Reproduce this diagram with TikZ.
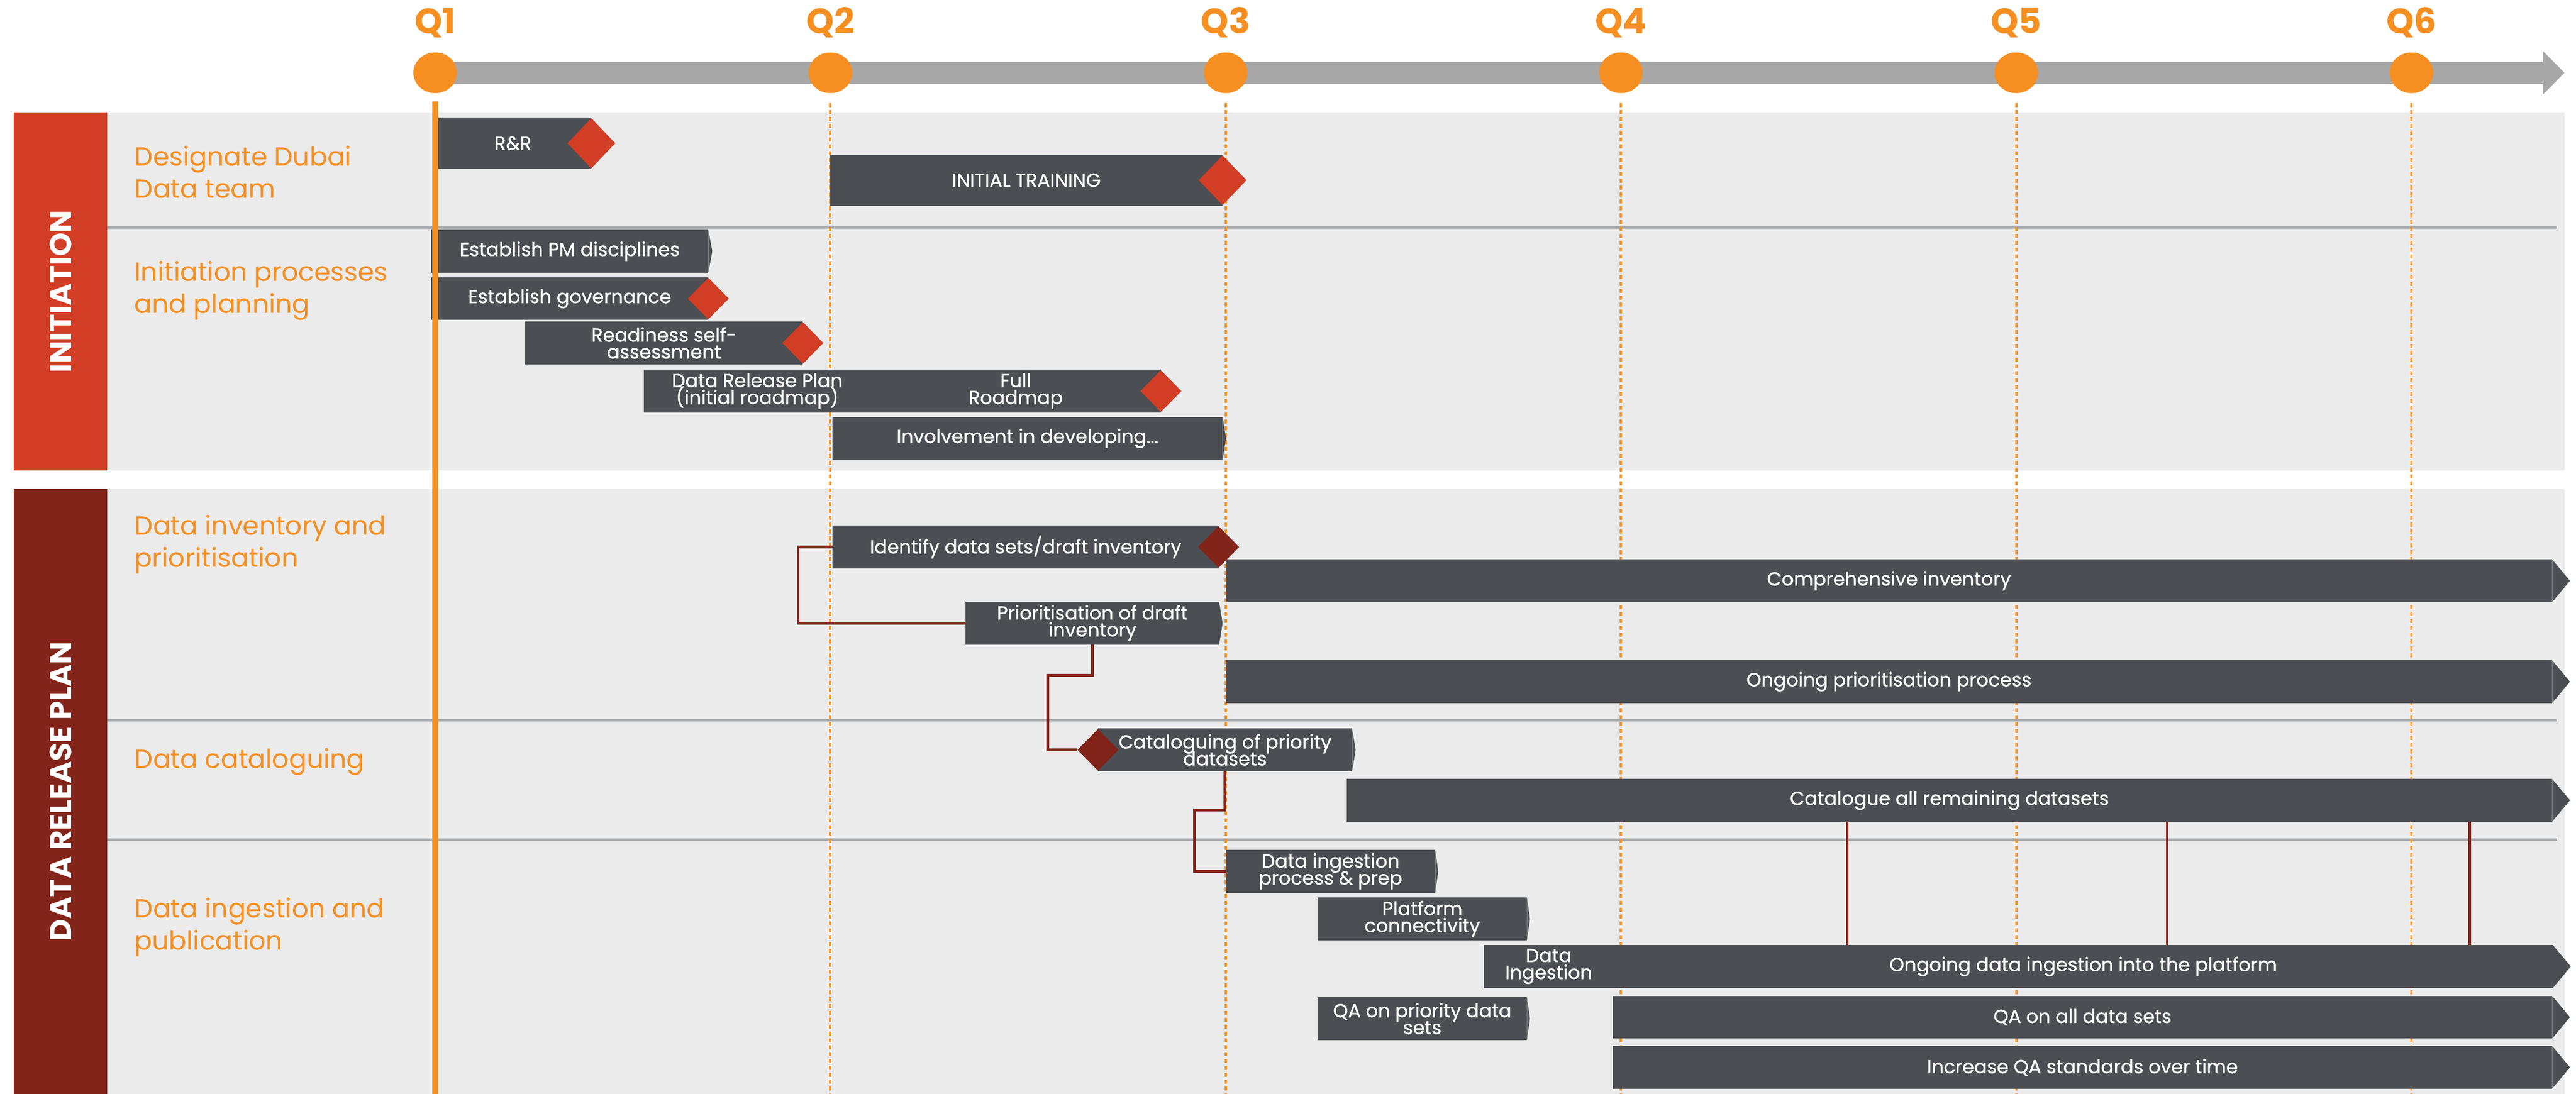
\documentclass[tikz,border=0pt]{standalone}
\usepackage{fontspec}
\setmainfont{Poppins}
\newfontfamily\barfont[FakeBold=0.6]{Poppins}
\usepackage{tikz}
\usetikzlibrary{positioning,shapes.geometric,arrows.meta}
\AtBeginDocument{\lineskiplimit=-10pt}
\definecolor{qorange}{HTML}{F58F22}
\definecolor{initred}{HTML}{D13D25}
\definecolor{planred}{HTML}{82241A}
\definecolor{bargray}{HTML}{4B4E53}
\definecolor{bandgray}{HTML}{EBEBEB}
\definecolor{sepgray}{HTML}{A4A8AB}
\definecolor{tlgray}{HTML}{A7A7A7}
\tikzstyle{qdot} = [ellipse, fill=qorange, minimum width=7.6mm, minimum height=7.1mm, inner sep=0pt]
\tikzstyle{qlabel} = [text=qorange, font=\fontsize{17.5}{20}\selectfont\bfseries, inner sep=0pt]
\tikzstyle{phase} = [rotate=90, text=white, inner sep=0pt, font=\fontsize{15}{18}\selectfont\bfseries]
\tikzstyle{stream} = [anchor=west, align=left, text=qorange, inner sep=0pt, font=\fontsize{13}{16}\selectfont]
\tikzstyle{bar} = [anchor=west, fill=bargray, draw=bargray, line width=0.4pt, text=white, align=center, inner sep=0pt, minimum height=7.3mm, font=\barfont\fontsize{9.4}{8.4}\selectfont]
\tikzstyle{mile} = [diamond, fill=initred, inner sep=0pt, minimum width=7.2mm, minimum height=7.3mm]
\tikzstyle{link} = [draw=planred, line width=1.4pt]
\tikzstyle{sep} = [draw=sepgray, line width=1.1pt]

\begin{document}
\begin{tikzpicture}[x=1cm, y=-1cm]
    \useasboundingbox (0,0) rectangle (44.93,19.09);
    \coordinate (bottom) at (0,19.09);
    \fill[bandgray] (1.87,1.96) rectangle (44.73,8.21);
    \fill[bandgray] (1.87,8.53) rectangle (44.73,19.09);
    \node[phase, fill=initred, minimum width=6.25cm, minimum height=1.63cm] (init) at (1.055,5.085) {INITIATION};
    \node[phase, fill=planred, minimum width=10.56cm, minimum height=1.63cm] (plan) at (1.055,13.81) {DATA RELEASE PLAN};
    \draw[sep] (1.87,3.97) -- (44.60,3.97);
    \draw[sep] (1.87,12.57) -- (44.60,12.57);
    \draw[sep] (1.87,14.65) -- (44.60,14.65);

    \coordinate (tlstart) at (7.59,1.27);
    \coordinate (tlend) at (44.73,1.27);
    \draw[tlgray, line width=3.8mm, -{Triangle[length=3.8mm,width=7.4mm]}] (tlstart) -- (tlend);
    \foreach \i [evaluate=\i as \x using 7.59+(\i-1)*6.894] in {1,...,6} {
        \node[qdot] (q\i) at (\x,1.27) {};
        \node[qlabel, above=2.4mm of q\i] {Q\i};
    }
    \foreach \i in {2,...,6}
        \draw[qorange, line width=1.1pt, dash pattern=on 0.7mm off 0.5mm] ([yshift=-1.7mm]q\i.south) -- (q\i |- bottom);

    \node[stream] (s1) at (2.34,3.00) {Designate Dubai\\Data team};
    \node[stream] (s2) at (2.34,5.07) {Initiation processes\\and planning};
    \node[stream] (s3) at (2.34,9.50) {Data inventory and\\prioritisation};
    \node[stream] (s4) at (2.34,13.29) {Data cataloguing};
    \node[stream] (s5) at (2.34,16.18) {Data ingestion and\\publication};

    \node[bar, minimum width=2.72cm, minimum height=8.8mm] (rr) at (7.58,2.50) {R\&R};
    \node[bar, minimum width=6.83cm, minimum height=8.7mm] (train) at (14.48,3.145) {INITIAL TRAINING};
    \node[bar, minimum width=4.82cm] (pm) at (7.52,4.385) {Establish PM disciplines};
    \node[bar, minimum width=4.82cm] (gov) at (7.52,5.21) {Establish governance};
    \node[bar, minimum width=4.83cm] (ready) at (9.16,5.985) {Readiness self-\\assessment};
    \node[bar, minimum width=3.94cm] (drp) at (11.23,6.825) {Data Release Plan\\(initial roadmap)};
    \node[bar, minimum width=5.05cm, right=0pt of drp] (full) {Full\\Roadmap};
    \node[bar, minimum width=6.79cm] (inv) at (14.52,7.65) {Involvement in developing...};

    \node[bar, minimum width=6.72cm] (ident) at (14.52,9.545) {Identify data sets/draft inventory};
    \node[bar, minimum width=23.12cm] (comp) at (21.38,10.135) {Comprehensive inventory};
    \node[bar, minimum width=4.41cm] (prio) at (16.84,10.875) {Prioritisation of draft\\inventory};
    \node[bar, minimum width=23.12cm] (ongprio) at (21.38,11.895) {Ongoing prioritisation process};
    \node[bar, minimum width=4.42cm] (catp) at (19.15,13.085) {Cataloguing of priority\\datasets};
    \node[bar, minimum width=21.01cm] (catall) at (23.49,13.965) {Catalogue all remaining datasets};
    \node[bar, minimum width=3.64cm] (ingprep) at (21.38,15.205) {Data ingestion\\process \& prep};
    \node[bar, minimum width=3.64cm] (platform) at (22.98,16.035) {Platform\\connectivity};
    \node[bar, minimum width=2.25cm] (dataing) at (25.88,16.865) {Data\\Ingestion};
    \node[bar, minimum width=16.37cm, right=0pt of dataing] (onging) {Ongoing data ingestion into the platform};
    \node[bar, minimum width=3.64cm] (qaprio) at (22.98,17.775) {QA on priority data\\sets};
    \node[bar, minimum width=16.37cm] (qaall) at (28.13,17.75) {QA on all data sets};
    \node[bar, minimum width=16.37cm] (qastd) at (28.13,18.625) {Increase QA standards over time};

    \foreach \b/\t in {pm/0.7, inv/0.6, prio/0.6, catp/0.6, ingprep/0.5, platform/0.5, qaprio/0.5, comp/3.1, ongprio/3.1, catall/3.1, onging/3.1, qaall/3.1, qastd/3.1}
        \fill[bargray] (\b.north east) -- ([xshift=\t mm]\b.east) -- (\b.south east) -- cycle;

    \node[mile, minimum width=8.4mm, minimum height=8.8mm] (rrM) at (rr.east) {};
    \node[mile, minimum width=8.4mm, minimum height=8.7mm] (trainM) at (train.east) {};
    \node[mile] (govM) at (gov.east) {};
    \node[mile] (readyM) at (ready.east) {};
    \node[mile] (fullM) at (full.east) {};
    \node[mile, fill=planred] (identM) at (ident.east) {};
    \node[mile, fill=planred] (catpM) at (catp.west) {};

    \draw[link] (ident.west) -- ++(-0.6,0) |- (prio.west);
    \draw[link] (prio.south) -- ++(0,0.54) -- ++(-0.78,0) |- (catpM.west);
    \draw[link] (catp.south) -- ++(0,0.68) -- ++(-0.53,0) |- (ingprep.west);
    \foreach \x in {32.22,37.80,43.07}
        \draw[link] (catall.south -| \x,0) -- (onging.north -| \x,0);

    \draw[qorange, line width=2.8pt] ([yshift=-1.4mm]q1.south) -- (q1 |- bottom);
\end{tikzpicture}
\end{document}
